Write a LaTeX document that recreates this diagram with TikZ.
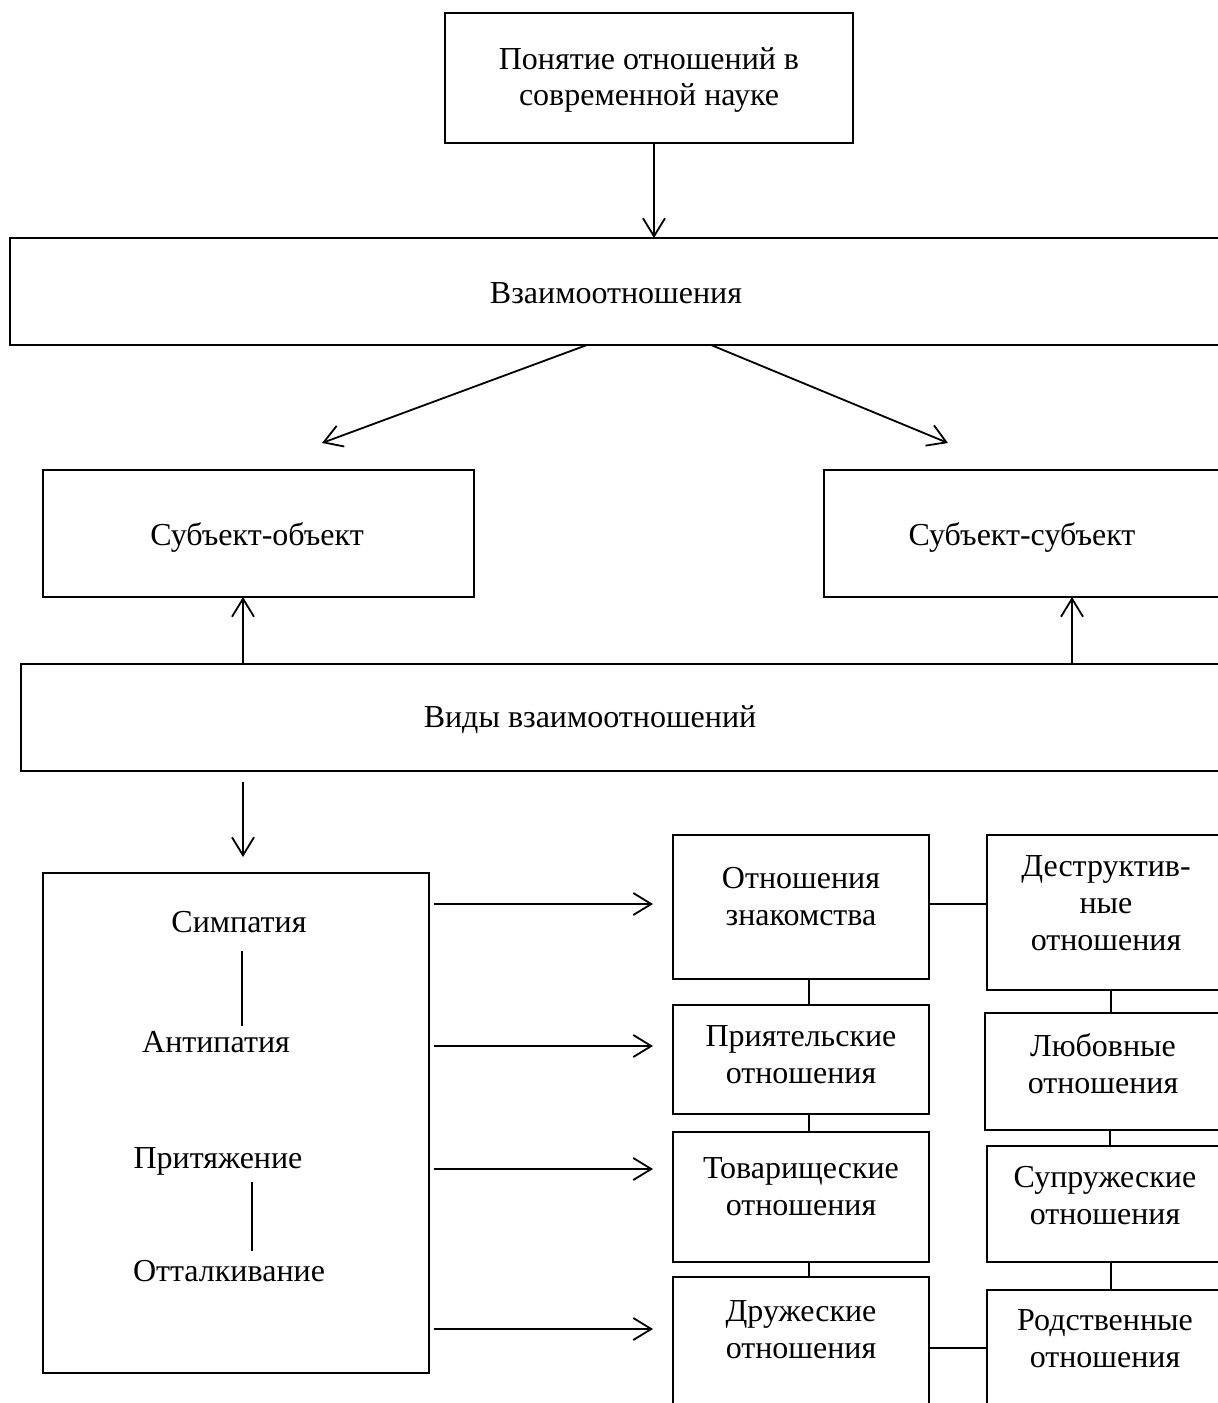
\documentclass[tikz,border=0pt]{standalone}
\usepackage{fontspec}
\setmainfont{Liberation Serif}
\usetikzlibrary{arrows.meta,calc}
\newcommand{\fsz}{\fontsize{16pt}{18.4pt}\selectfont}
\tikzset{
  bx/.style={draw, line width=0.9pt, inner sep=0pt, outer sep=0pt},
  txt/.style={align=center, inner sep=0pt, font=\fsz},
  arr/.style={line width=0.9pt, -{Straight Barb[length=9pt,width=11pt,line width=0.9pt]}},
  ln/.style={line width=0.9pt}
}
\begin{document}
\begin{tikzpicture}[x=0.5pt,y=-0.5pt]
\useasboundingbox (0,0) rectangle (1218,1403);
\clip (0,0) rectangle (1218,1403);
% boxes
\node[bx, minimum width=204pt, minimum height=65pt] (b1) at (649,78) {};
\node[bx, minimum width=606pt, minimum height=53.5pt] (b2) at (616,291.5) {};
\node[bx, minimum width=215.5pt, minimum height=63.5pt] (b3) at (258.5,533.5) {};
\node[bx, minimum width=199pt, minimum height=63.5pt] (b4) at (1023,533.5) {};
\node[bx, minimum width=605pt, minimum height=53.5pt] (b5) at (626,717.5) {};
\node[bx, minimum width=193pt, minimum height=250pt] (b6) at (236,1123) {};
\node[bx, minimum width=128pt, minimum height=72pt] (m1) at (801,907) {};
\node[bx, minimum width=128pt, minimum height=54.5pt] (m2) at (801,1059.5) {};
\node[bx, minimum width=128pt, minimum height=65pt] (m3) at (801,1197) {};
\node[bx, minimum width=128pt, minimum height=81.5pt] (m4) at (801,1358.5) {};
\node[bx, minimum width=120pt, minimum height=77.5pt] (r1) at (1107,912.5) {};
\node[bx, minimum width=121pt, minimum height=58.5pt] (r2) at (1106,1071.5) {};
\node[bx, minimum width=120pt, minimum height=58pt] (r3) at (1107,1204) {};
\node[bx, minimum width=120pt, minimum height=75pt] (r4) at (1107,1365) {};
% texts
\node[txt] (t1) at (649,80) {Понятие отношений в\\современной науке};
\node[txt] (t2) at (616,293) {Взаимоотношения};
\node[txt] (t3) at (257,537) {Субъект-объект};
\node[txt] (t4) at (1022,537) {Субъект-субъект};
\node[txt] (t5) at (590,720) {Виды взаимоотношений};
\node[txt] (simp) at (239,922) {Симпатия};
\node[txt] (anti) at (216,1042) {Антипатия};
\node[txt] (prit) at (218,1161) {Притяжение};
\node[txt] (otta) at (229,1271) {Отталкивание};
\node[txt] (tm1) at (801,896.5) {Отношения\\знакомства};
\node[txt] (tm2) at (801,1054.5) {Приятельские\\отношения};
\node[txt] (tm3) at (801,1186.5) {Товарищеские\\отношения};
\node[txt] (tm4) at (801,1329.5) {Дружеские\\отношения};
\node[txt] (tr1) at (1106,903) {Деструктив-\\ные\\отношения};
\node[txt] (tr2) at (1103,1063.5) {Любовные\\отношения};
\node[txt] (tr3) at (1105,1195.5) {Супружеские\\отношения};
\node[txt] (tr4) at (1105,1338.5) {Родственные\\отношения};
% free-end coordinates
\coordinate (d1) at (322,443);
\coordinate (d2) at (948,443);
\coordinate (l1a) at (242,951);
\coordinate (l1b) at (242,1026);
\coordinate (l2a) at (252,1182);
\coordinate (l2b) at (252,1251);
\coordinate (a1) at (434,904);
\coordinate (a2) at (434,1046);
\coordinate (a3) at (434,1169);
\coordinate (a4) at (434,1329);
\coordinate (h1) at (929,904);
\coordinate (h4) at (929,1348);
% connectors
\draw[arr] ([xshift=2.5pt]b1.south) -- ([xshift=2.5pt]b1.south |- b2.north);
\draw[arr] ([xshift=-14.5pt]b2.south) -- (d1);
\draw[arr] ([xshift=47.5pt]b2.south) -- (d2);
\draw[arr] ([xshift=-7.75pt]b3.south |- b5.north) -- ([xshift=-7.75pt]b3.south);
\draw[arr] ([xshift=24.5pt]b4.south |- b5.north) -- ([xshift=24.5pt]b4.south);
\draw[arr, shorten <=5.5pt, shorten >=8pt] ([xshift=3.5pt]b6.north |- b5.south) -- ([xshift=3.5pt]b6.north);
\draw[ln] (l1a) -- (l1b);
\draw[ln] (l2a) -- (l2b);
\draw[arr, shorten >=10pt] (a1) -- (a1 -| m1.west);
\draw[arr, shorten >=10pt] (a2) -- (a2 -| m2.west);
\draw[arr, shorten >=10pt] (a3) -- (a3 -| m3.west);
\draw[arr, shorten >=10pt] (a4) -- (a4 -| m4.west);
\draw[ln] ([xshift=4pt]m1.south) -- ([xshift=4pt]m2.north);
\draw[ln] ([xshift=4pt]m2.south) -- ([xshift=4pt]m3.north);
\draw[ln] ([xshift=4pt]m3.south) -- ([xshift=4pt]m4.north);
\draw[ln] ([xshift=2pt]r1.south) -- ([xshift=2pt]r1.south |- r2.north);
\draw[ln] ([xshift=2pt]r2.south) -- ([xshift=2pt]r2.south |- r3.north);
\draw[ln] ([xshift=2pt]r3.south) -- ([xshift=2pt]r3.south |- r4.north);
\draw[ln] (h1) -- (h1 -| r1.west);
\draw[ln] (h4) -- (h4 -| r4.west);
\end{tikzpicture}
\end{document}
